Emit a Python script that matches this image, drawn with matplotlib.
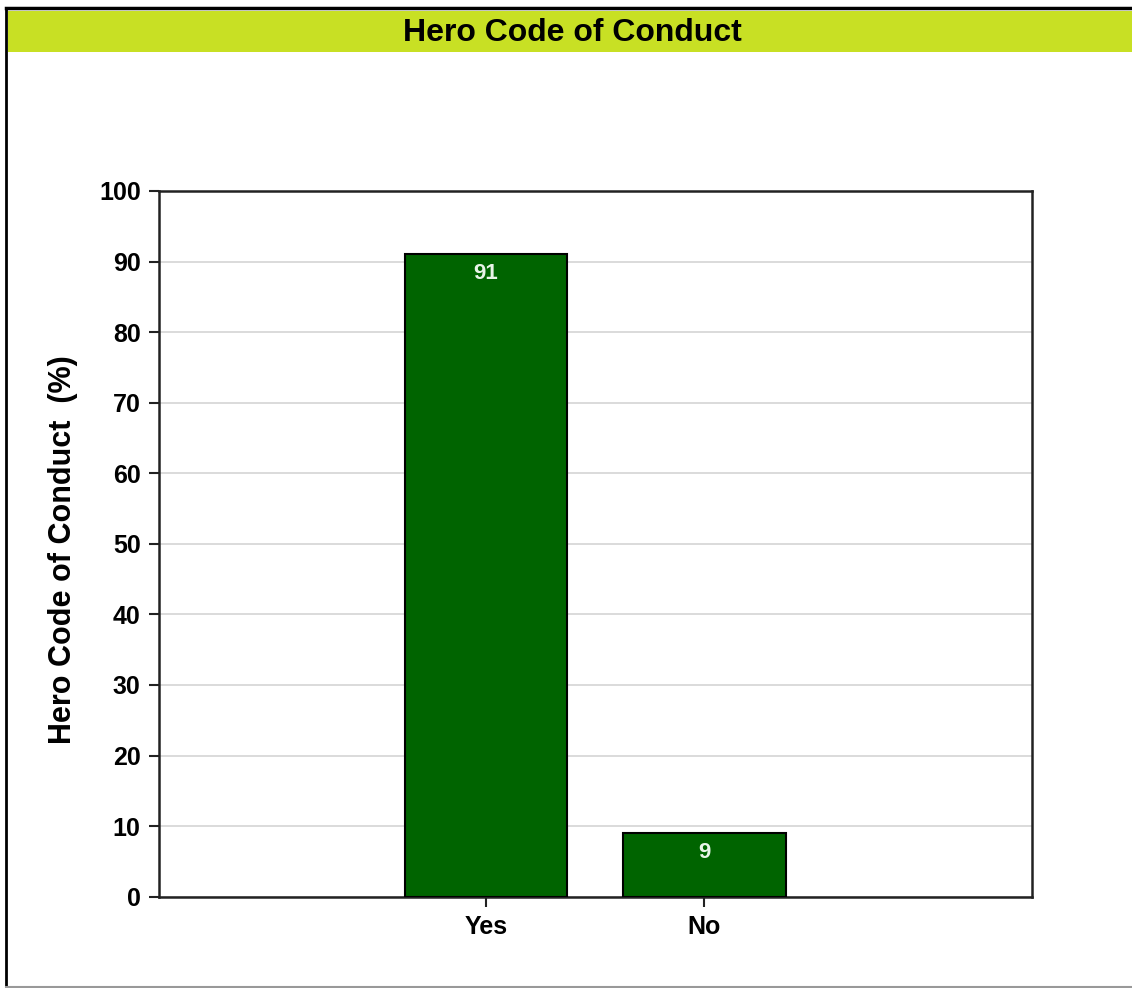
import matplotlib
matplotlib.use('Agg')
import matplotlib.pyplot as plt
from matplotlib.lines import Line2D
from matplotlib.patches import Rectangle

# data
categories = ['Yes', 'No']
values = [91, 9]
yticks = [0, 10, 20, 30, 40, 50, 60, 70, 80, 90, 100]

plt.rcParams['font.family'] = ['Liberation Sans', 'DejaVu Sans']
plt.rcParams['font.weight'] = 'bold'

fig = plt.figure(figsize=(11.32, 9.88), dpi=100)
ax = fig.add_axes([0.1402, 0.0924, 0.7712, 0.7143])

# outer frame and title bar
fig.add_artist(Line2D([6 / 1132, 1.0], [1 - 8 / 988, 1 - 8 / 988], color='black', lw=2.5))
fig.add_artist(Line2D([6 / 1132, 6 / 1132], [1 - 8 / 988, 1 - 987 / 988], color='black', lw=2.0))
fig.add_artist(Line2D([6 / 1132, 1.0], [1 - 987 / 988, 1 - 987 / 988], color='#999999', lw=1.5))
fig.add_artist(Rectangle((8 / 1132, 1 - 52 / 988), 1.0, 41 / 988, transform=fig.transFigure,
                         facecolor='#c8e024', edgecolor='none'))
fig.text(0.506, 1 - 33 / 988, 'Hero Code of Conduct', ha='center', va='center',
         fontsize=23, fontweight='bold', color='black')

x = list(range(len(categories)))
bars = ax.bar(x, values, width=0.745, color='#006400', edgecolor='black', linewidth=1.5, zorder=3)

for b, v in zip(bars, values):
    ax.annotate(str(v), (b.get_x() + b.get_width() / 2, v), xytext=(0, -14),
                textcoords='offset points', ha='center', va='center',
                color='#e8f4e8', fontsize=16, fontweight='bold', zorder=4)

ax.set_xlim(-1.5, 2.5)
ax.set_ylim(0, 100)
ax.set_yticks(yticks)
ax.set_xticks(x)
ax.set_xticklabels(categories)
ax.yaxis.grid(True, color='#d4d4d4', lw=1.2, zorder=0)
ax.set_axisbelow(True)
ax.tick_params(axis='both', direction='out', length=7, width=1.5, labelsize=18, pad=6, color='#222222')
for lbl in ax.get_xticklabels() + ax.get_yticklabels():
    lbl.set_fontweight('bold')
for s in ax.spines.values():
    s.set_linewidth(1.8)
    s.set_color('#222222')

fig.text(0.0557, 1 - 550 / 988, 'Hero Code of Conduct  (%)', rotation=90, ha='center', va='center',
         fontsize=22, fontweight='bold')

fig.savefig('out.png', dpi=100)
